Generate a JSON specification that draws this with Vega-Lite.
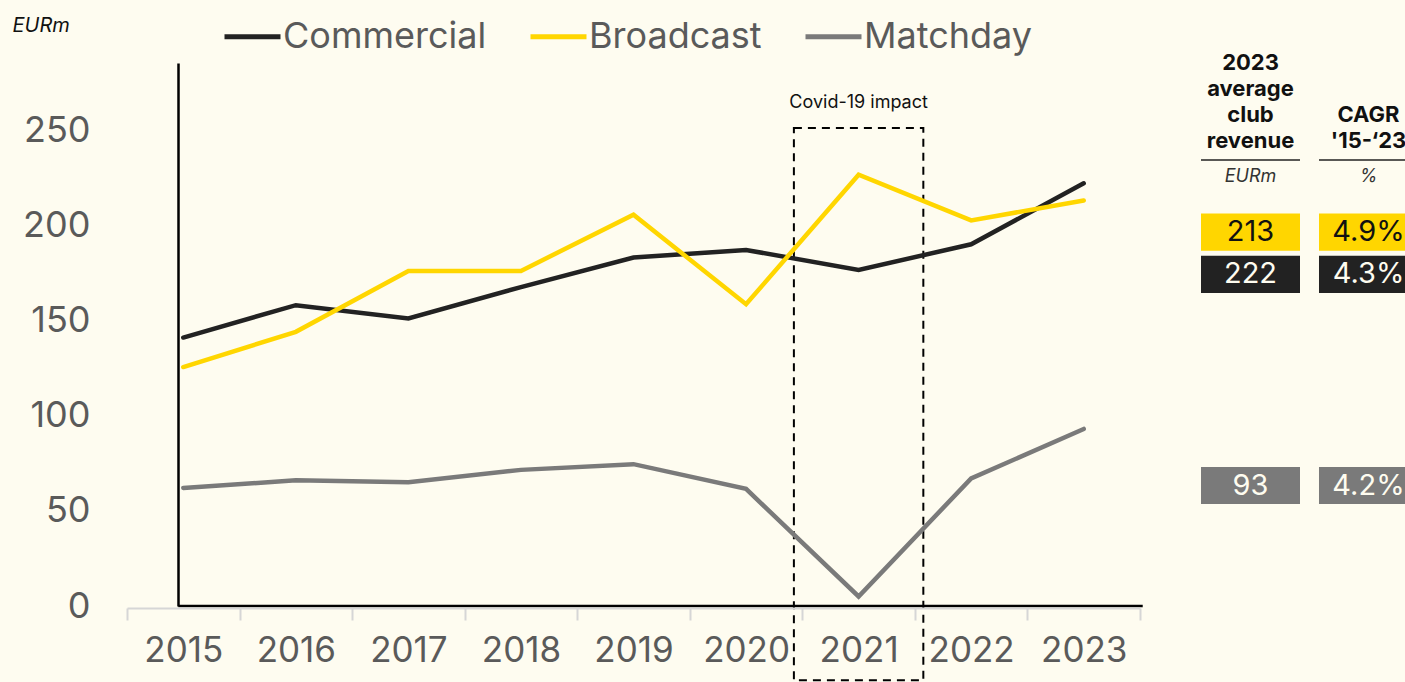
{
  "$schema": "https://vega.github.io/schema/vega-lite/v6.json",
  "background": "#FEFCF0",
  "padding": {"left": 12, "top": 6, "right": 0, "bottom": 30},
  "config": {"view": {"stroke": null}, "font": "Inter"},
  "datasets": {
    "revenue": [
      {"series": "Commercial", "year": "2015", "value": 141},
      {"series": "Commercial", "year": "2016", "value": 158},
      {"series": "Commercial", "year": "2017", "value": 151},
      {"series": "Commercial", "year": "2018", "value": 167.5},
      {"series": "Commercial", "year": "2019", "value": 183},
      {"series": "Commercial", "year": "2020", "value": 187},
      {"series": "Commercial", "year": "2021", "value": 176.5},
      {"series": "Commercial", "year": "2022", "value": 190},
      {"series": "Commercial", "year": "2023", "value": 222},
      {"series": "Broadcast", "year": "2015", "value": 125.5},
      {"series": "Broadcast", "year": "2016", "value": 144},
      {"series": "Broadcast", "year": "2017", "value": 176},
      {"series": "Broadcast", "year": "2018", "value": 176},
      {"series": "Broadcast", "year": "2019", "value": 205.5},
      {"series": "Broadcast", "year": "2020", "value": 158.5},
      {"series": "Broadcast", "year": "2021", "value": 226.5},
      {"series": "Broadcast", "year": "2022", "value": 202.5},
      {"series": "Broadcast", "year": "2023", "value": 213},
      {"series": "Matchday", "year": "2015", "value": 62},
      {"series": "Matchday", "year": "2016", "value": 66},
      {"series": "Matchday", "year": "2017", "value": 65},
      {"series": "Matchday", "year": "2018", "value": 71.5},
      {"series": "Matchday", "year": "2019", "value": 74.5},
      {"series": "Matchday", "year": "2020", "value": 61.5},
      {"series": "Matchday", "year": "2021", "value": 5},
      {"series": "Matchday", "year": "2022", "value": 67},
      {"series": "Matchday", "year": "2023", "value": 93}
    ],
    "tableText": [
      {"col": "rev", "row": "header", "kind": "head", "text": ["2023", "average", "club", "revenue"]},
      {"col": "cagr", "row": "header", "kind": "head", "text": ["CAGR", "'15-‘23"]},
      {"col": "rev", "row": "units", "kind": "unit", "text": "EURm"},
      {"col": "cagr", "row": "units", "kind": "unit", "text": "%"}
    ],
    "tableValues": [
      {"series": "Broadcast", "col": "rev", "label": "213"},
      {"series": "Broadcast", "col": "cagr", "label": "4.9%"},
      {"series": "Commercial", "col": "rev", "label": "222"},
      {"series": "Commercial", "col": "cagr", "label": "4.3%"},
      {"series": "Matchday", "col": "rev", "label": "93"},
      {"series": "Matchday", "col": "cagr", "label": "4.2%"}
    ]
  },
  "spacing": 61,
  "bounds": "flush",
  "resolve": {"scale": {"color": "independent", "x": "independent", "y": "independent"}, "legend": {"color": "independent"}},
  "hconcat": [
    {
      "width": 1013,
      "height": 543,
      "layer": [
        {
          "data": {"values": [{}]},
          "mark": {"type": "rect", "fill": "transparent", "stroke": "#000000", "strokeWidth": 2, "strokeDash": [8, 6], "width": {"band": 1.15}},
          "encoding": {
            "x": {"datum": "2021", "type": "ordinal"},
            "y": {"datum": 251, "type": "quantitative"},
            "y2": {"datum": -39}
          }
        },
        {
          "data": {"values": [{}]},
          "mark": {"type": "text", "fontSize": 18, "color": "#111111", "baseline": "middle"},
          "encoding": {
            "x": {"datum": "2021", "type": "ordinal"},
            "y": {"datum": 264, "type": "quantitative"},
            "text": {"value": "Covid-19 impact"}
          }
        },
        {
          "data": {"name": "revenue"},
          "mark": {"type": "line", "strokeWidth": 4.5, "strokeCap": "round"},
          "encoding": {
            "x": {
              "field": "year", "type": "ordinal",
              "scale": {"type": "band", "paddingInner": 0, "paddingOuter": 0},
              "axis": {"title": null, "labelAngle": 0, "labelAlign": "center", "tickBand": "extent", "domainColor": "#d6d6d6", "domainWidth": 2, "tickColor": "#d6d6d6", "tickWidth": 2, "tickSize": 12, "offset": 2, "labelFontSize": 35, "labelColor": "#5a5a5a", "labelPadding": 30, "grid": false}
            },
            "y": {
              "field": "value", "type": "quantitative",
              "scale": {"domain": [0, 285.2], "nice": false, "zero": false},
              "axis": {"values": [0, 50, 100, 150, 200, 250], "offset": -51, "domainColor": "#000000", "domainWidth": 2.5, "ticks": false, "grid": false, "labelPadding": 88, "labelFontSize": 36, "labelColor": "#5a5a5a", "title": "EURm", "titleAngle": 0, "titleX": -166, "titleY": -38, "titleFontStyle": "italic", "titleFontWeight": "normal", "titleFontSize": 20, "titleColor": "#111111", "titleAlign": "left", "titleBaseline": "middle"}
            },
            "color": {
              "field": "series", "type": "nominal",
              "scale": {"domain": ["Commercial", "Broadcast", "Matchday"], "range": ["#222222", "#FFD600", "#7A7A7A"]},
              "legend": {"title": null, "orient": "none", "direction": "horizontal", "columns": 3, "legendX": 95, "legendY": -57, "symbolType": "stroke", "symbolSize": 3136, "symbolStrokeWidth": 5, "labelFontSize": 36, "labelColor": "#5a5a5a", "labelOffset": 0, "columnPadding": 33, "labelLimit": 400}
            }
          }
        },
        {
          "data": {"values": [{}]},
          "mark": {"type": "rule", "color": "#000000", "strokeWidth": 2.5, "xOffset": -5, "x2Offset": 59},
          "encoding": {
            "x": {"datum": "2015", "type": "ordinal"},
            "x2": {"datum": "2023"},
            "y": {"datum": 0, "type": "quantitative"}
          }
        }
      ]
    },
    {
      "width": 217,
      "height": 465,
      "encoding": {
        "x": {"field": "col", "type": "nominal", "scale": {"type": "band", "domain": ["rev", "cagr"], "paddingInner": 0.161, "paddingOuter": 0}, "axis": null}
      },
      "layer": [
        {
          "data": {"name": "tableText"},
          "transform": [{"filter": "datum.kind === 'head' && datum.col === 'rev'"}],
          "mark": {"type": "text", "fontSize": 22, "fontWeight": "bold", "lineHeight": 26, "baseline": "bottom", "dy": -72.6, "color": "#111111"},
          "encoding": {
            "y": {"field": "row", "type": "nominal", "scale": {"type": "band", "domain": ["top", "header", "units", "Broadcast", "Commercial", "g1", "g2", "g3", "g4", "Matchday"], "paddingInner": 0.1232, "paddingOuter": 0.566}, "axis": null},
            "text": {"field": "text"}
          }
        },
        {
          "data": {"name": "tableText"},
          "transform": [{"filter": "datum.kind === 'head' && datum.col === 'cagr'"}],
          "mark": {"type": "text", "fontSize": 22, "fontWeight": "bold", "lineHeight": 26, "baseline": "bottom", "dy": -20.6, "color": "#111111"},
          "encoding": {
            "y": {"field": "row", "type": "nominal"},
            "text": {"field": "text"}
          }
        },
        {
          "data": {"name": "tableText"},
          "transform": [{"filter": "datum.kind === 'head'"}],
          "mark": {"type": "rect", "height": 1.5, "yOffset": 12.4, "color": "#222222"},
          "encoding": {
            "y": {"field": "row", "type": "nominal"}
          }
        },
        {
          "data": {"name": "tableText"},
          "transform": [{"filter": "datum.kind === 'unit'"}],
          "mark": {"type": "text", "fontSize": 18, "fontStyle": "italic", "baseline": "middle", "dy": -13, "color": "#333333"},
          "encoding": {
            "y": {"field": "row", "type": "nominal"},
            "text": {"field": "text"}
          }
        },
        {
          "data": {"name": "tableValues"},
          "mark": {"type": "rect"},
          "encoding": {
            "y": {"field": "series", "type": "nominal"},
            "color": {"field": "series", "type": "nominal", "scale": {"domain": ["Commercial", "Broadcast", "Matchday"], "range": ["#222222", "#FFD600", "#7A7A7A"]}, "legend": null}
          }
        },
        {
          "data": {"name": "tableValues"},
          "mark": {"type": "text", "fontSize": 29, "baseline": "middle"},
          "encoding": {
            "y": {"field": "series", "type": "nominal"},
            "text": {"field": "label"},
            "color": {"condition": {"test": "datum.series === 'Broadcast'", "value": "#111111"}, "value": "#FEFCF0"}
          }
        }
      ]
    }
  ]
}
